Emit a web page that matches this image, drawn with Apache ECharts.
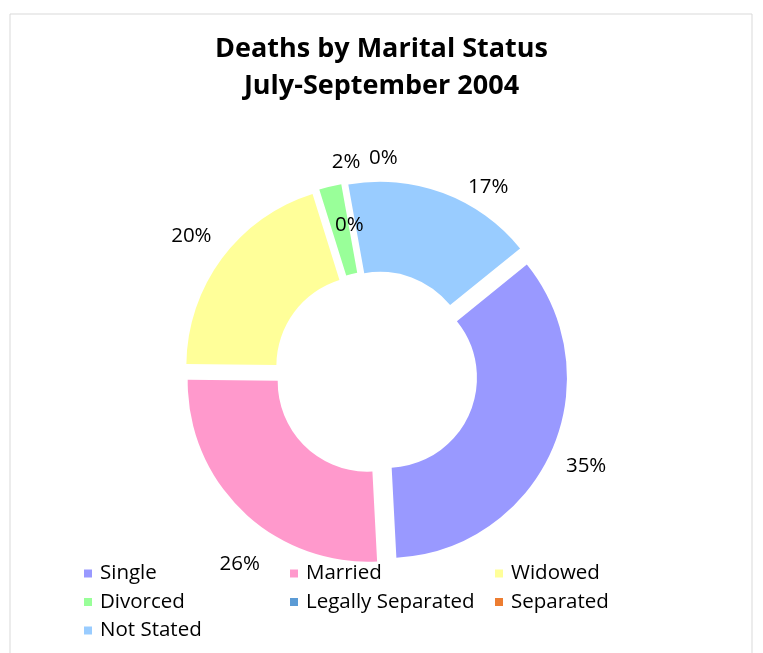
<!DOCTYPE html>
<html>
<head>
<meta charset="utf-8">
<script src="https://cdn.jsdelivr.net/npm/echarts@6/dist/echarts.min.js"></script>
<style>
  html, body { margin: 0; padding: 0; background: #fff; }
  #chart { width: 763px; height: 653px; }
</style>
</head>
<body>
<div id="chart"></div>
<script>
// marital status categories and their share of deaths (%)
const categories = ['Single', 'Married', 'Widowed', 'Divorced', 'Legally Separated', 'Separated', 'Not Stated'];
const shares = [35, 26, 20, 2, 0, 0, 17];
const colors = ['#9999FF', '#FF99CC', '#FFFF99', '#99FF99', '#5B9BD5', '#ED7D31', '#99CCFF'];

// legend is laid out in three columns like the excel one
const legendColumns = [
    ['Single', 'Divorced', 'Not Stated'],
    ['Married', 'Legally Separated'],
    ['Widowed', 'Separated']
];
const legendLeft = [84, 290, 495];

// excel "best fit" moved a few labels, nudge those
const labelNudge = {
    'Married': [23, 25],
    'Divorced': [25, 13],
    'Separated': [48, 12],
    'Not Stated': [32, 30]
};

const FONT = 'Open Sans';
const chart = echarts.init(document.getElementById('chart'));

const pieData = categories.map((name, i) => {
    const item = { name: name, value: shares[i], selected: true, itemStyle: { color: colors[i] } };
    if (name === 'Legally Separated') item.label = { position: 'inside' };
    return item;
});

const legends = legendColumns.map((col, i) => ({
    data: col,
    left: legendLeft[i],
    top: 563,
    orient: 'vertical',
    icon: 'rect',
    itemWidth: 8,
    itemHeight: 8,
    itemGap: 7.5,
    padding: 0,
    selectedMode: false,
    textStyle: { fontFamily: FONT, fontSize: 20.5, lineHeight: 20, color: '#000', padding: [0, 0, 0, 3] }
}));

chart.setOption({
    animation: false,
    textStyle: { fontFamily: FONT },
    title: {
        text: 'Deaths by Marital Status\nJuly-September 2004',
        left: 'center',
        top: 26,
        textStyle: { fontFamily: FONT, fontWeight: 'bold', fontSize: 27, lineHeight: 37, color: '#000' }
    },
    graphic: [{
        type: 'rect',
        shape: { x: 10, y: 14, width: 742, height: 700 },
        style: { fill: 'none', stroke: '#d9d9d9', lineWidth: 1 },
        silent: true
    }],
    legend: legends,
    series: [{
        type: 'pie',
        center: [376, 373],
        radius: [90, 180],
        startAngle: 39,
        clockwise: true,
        selectedMode: 'multiple',
        selectedOffset: 12,
        avoidLabelOverlap: false,
        data: pieData,
        label: {
            show: true,
            position: 'outside',
            fontFamily: FONT,
            fontSize: 20.5,
            color: '#000',
            distanceToLabelLine: 0,
            formatter: p => Math.round(p.percent) + '%'
        },
        labelLine: { show: false, length: 38, length2: 0 },
        labelLayout: params => {
            const name = categories[params.dataIndex];
            const n = labelNudge[name] || [0, 0];
            return { align: 'center', verticalAlign: 'middle', dx: n[0], dy: n[1] };
        },
        emphasis: { disabled: true }
    }]
});
</script>
</body>
</html>
